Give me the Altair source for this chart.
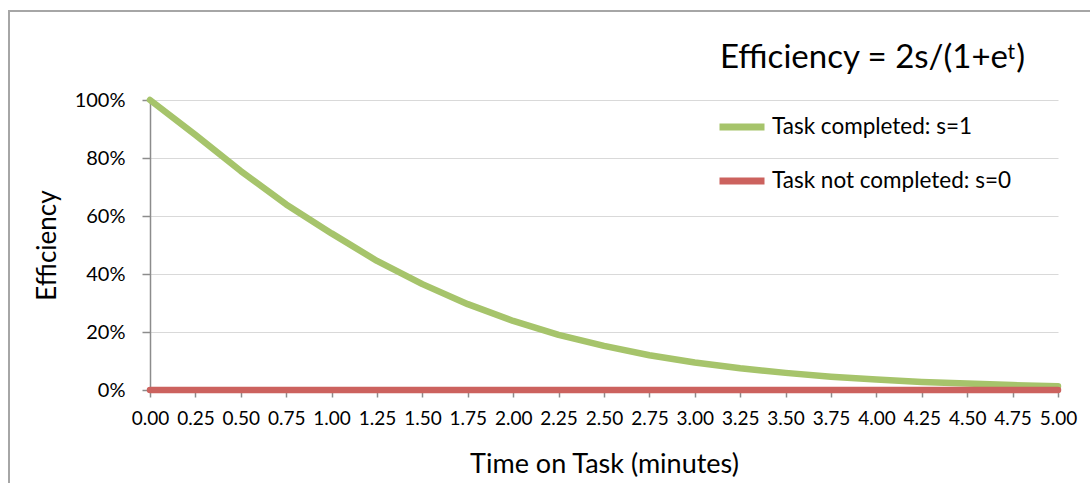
import altair as alt
import pandas as pd

times = [0.00, 0.25, 0.50, 0.75, 1.00, 1.25, 1.50, 1.75, 2.00, 2.25, 2.50,
         2.75, 3.00, 3.25, 3.50, 3.75, 4.00, 4.25, 4.50, 4.75, 5.00]
completed = [1.00, 0.88, 0.755, 0.64, 0.54, 0.445, 0.365, 0.296, 0.238, 0.19, 0.152,
             0.12, 0.095, 0.075, 0.059, 0.046, 0.036, 0.028, 0.022, 0.017, 0.013]
not_completed = [0, 0, 0, 0, 0, 0, 0, 0, 0, 0, 0,
                 0, 0, 0, 0, 0, 0, 0, 0, 0, 0]
series_names = ["Task completed: s=1", "Task not completed: s=0"]
series_colors = ["#A6C46B", "#CC625E"]
title_main = "Efficiency = 2s/(1+e"
title_sup = "t"
title_end = ")"
x_ticks = times
y_ticks = [0, 0.2, 0.4, 0.6, 0.8, 1.0]

rows = []
for t, v in zip(times, completed):
    rows.append({"t": t, "eff": v, "series": series_names[0]})
for t, v in zip(times, not_completed):
    rows.append({"t": t, "eff": v, "series": series_names[1]})
df = pd.DataFrame(rows)

FONT = "Lato"
W, H = 908, 290

x_enc = alt.X("t:Q", scale=alt.Scale(domain=[0, 5], nice=False, zero=False),
              axis=alt.Axis(values=x_ticks, format=".2f", title="Time on Task (minutes)",
                            grid=False, tickSize=7, labelPadding=12, labelFontSize=19,
                            titleFontSize=27, titlePadding=23, labelFlush=False))
y_enc = alt.Y("eff:Q", scale=alt.Scale(domain=[0, 1], nice=False),
              axis=alt.Axis(values=y_ticks, format=".0%", title="Efficiency",
                            grid=True, tickSize=8, labelPadding=17, labelFontSize=20,
                            titleFontSize=26, titlePadding=14))
color_enc = alt.Color("series:N",
                      scale=alt.Scale(domain=series_names, range=series_colors),
                      legend=alt.Legend(title=None, orient="none", legendX=566, legendY=1,
                                        symbolType="stroke", symbolSize=2025,
                                        symbolStrokeWidth=7, labelFontSize=22.5,
                                        labelFont=FONT, labelOffset=4, rowPadding=14,
                                        padding=0, labelColor="black", labelLimit=0))

base = alt.Chart(df)
green = base.transform_filter(alt.datum.series == series_names[0]).mark_line(
    strokeWidth=6.5, strokeCap="round", strokeJoin="round"
).encode(x=x_enc, y=y_enc, color=color_enc)
red = base.transform_filter(alt.datum.series == series_names[1]).mark_line(
    strokeWidth=6.5, strokeCap="round", strokeJoin="round"
).encode(x=x_enc, y=y_enc, color=color_enc)

border = alt.Chart(alt.Data(values=[{}])).mark_rect(
    fill="transparent", stroke="#A6A6A6", strokeWidth=2
).encode(x=alt.value(-141), y=alt.value(-89), x2=alt.value(1100), y2=alt.value(600))

t_main = alt.Chart(alt.Data(values=[{"label": title_main}])).mark_text(
    align="right", baseline="alphabetic", fontSize=33, font=FONT, color="black"
).encode(x=alt.value(858), y=alt.value(-32), text="label:N")
t_sup = alt.Chart(alt.Data(values=[{"label": title_sup}])).mark_text(
    align="right", baseline="alphabetic", fontSize=21, font=FONT, color="black"
).encode(x=alt.value(865), y=alt.value(-41), text="label:N")
t_end = alt.Chart(alt.Data(values=[{"label": title_end}])).mark_text(
    align="right", baseline="alphabetic", fontSize=33, font=FONT, color="black"
).encode(x=alt.value(875), y=alt.value(-32), text="label:N")

chart = alt.layer(border, green, red, t_main, t_sup, t_end).properties(
    width=W, height=H,
    autosize=alt.AutoSizeParams(type="none"),
    padding={"left": 150, "top": 100, "right": 32, "bottom": 93},
    background="white",
).configure_view(stroke=None).configure_axis(
    labelFont=FONT, titleFont=FONT, labelColor="black", titleColor="black",
    titleFontWeight="normal", domainColor="#8C8C8C", tickColor="#8C8C8C",
    gridColor="#D9D9D9", domainWidth=1.5, tickWidth=1.5
)

chart.save("out.html", embed_options={"renderer": "svg", "actions": False})
